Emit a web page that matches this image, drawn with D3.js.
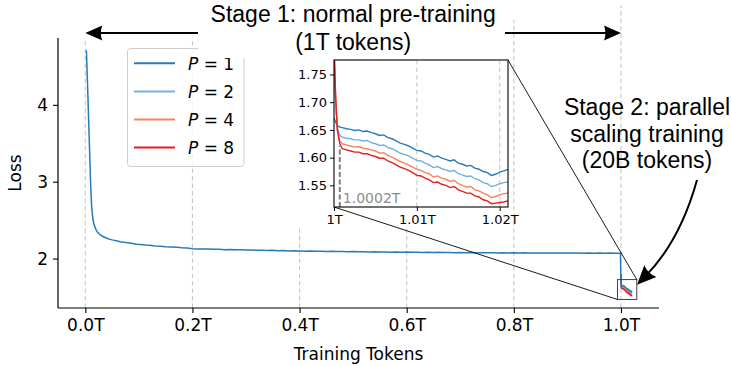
<!DOCTYPE html>
<html><head><meta charset="utf-8">
<script src="https://cdn.jsdelivr.net/npm/d3@7"></script>
<style>body{margin:0;background:#fff}</style>
</head><body>
<svg id="c" width="732" height="366" xmlns="http://www.w3.org/2000/svg"></svg>
<script>
// ---------------- data ----------------
const seriesNames = ["1", "2", "4", "8"];
const seriesColors = ["#2a7ab8", "#72b1da", "#f7845f", "#e2201f"];

const mainXTicks = [0, 0.2, 0.4, 0.6, 0.8, 1.0];
const mainXTickLabels = ["0.0T", "0.2T", "0.4T", "0.6T", "0.8T", "1.0T"];
const mainYTicks = [2, 3, 4];
const insetXTicks = [1.0, 1.01, 1.02];
const insetXTickLabels = ["1T", "1.01T", "1.02T"];
const insetYTicks = [1.55, 1.60, 1.65, 1.70, 1.75];

// Stage 1 (P = 1 only), x in trillions of tokens
const stage1X = [0.002,0.004,0.006,0.008,0.010,0.012,0.014,0.016,0.019,0.022,0.026,0.030,0.035,0.040,0.046,0.052,0.058,0.065,0.072,0.080,0.088,0.096,0.104,0.112,0.120,
  0.13,0.14,0.15,0.16,0.17,0.18,0.19,0.20,0.21,0.22,0.23,0.24,0.25,0.26,0.27,0.28,0.29,0.30,0.31,0.32,0.33,0.34,0.35,0.36,0.37,0.38,0.39,0.40,
  0.41,0.42,0.43,0.44,0.45,0.46,0.47,0.48,0.49,0.50,0.51,0.52,0.53,0.54,0.55,0.56,0.57,0.58,0.59,0.60,0.61,0.62,0.63,0.64,0.65,0.66,0.67,0.68,0.69,0.70,
  0.71,0.72,0.73,0.74,0.75,0.76,0.77,0.78,0.79,0.80,0.81,0.82,0.83,0.84,0.85,0.86,0.87,0.88,0.89,0.90,0.91,0.92,0.93,0.94,0.95,0.96,0.97,0.98,0.99,0.999];
const stage1P1 = [4.71,4.30,3.85,3.40,2.95,2.66,2.52,2.45,2.39,2.35,2.32,2.30,2.28,2.265,2.25,2.24,2.232,2.22,2.212,2.205,2.195,2.186,2.182,2.176,2.172,
  2.164,2.162,2.155,2.152,2.149,2.141,2.138,2.128,2.126,2.124,2.125,2.120,2.121,2.116,2.119,2.114,2.115,2.111,2.113,2.108,2.110,2.104,2.107,2.102,2.104,2.100,2.101,2.099,
  2.097,2.099,2.095,2.096,2.093,2.095,2.091,2.093,2.090,2.091,2.088,2.090,2.087,2.088,2.085,2.087,2.084,2.086,2.083,2.084,2.082,2.083,2.080,2.082,2.079,2.081,2.078,2.080,2.077,2.079,
  2.076,2.078,2.076,2.077,2.075,2.077,2.074,2.076,2.074,2.075,2.073,2.075,2.073,2.074,2.072,2.074,2.072,2.073,2.071,2.073,2.071,2.072,2.070,2.072,2.070,2.071,2.069,2.071,2.069,2.070];

// Stage 2 (parallel scaling), x in trillions of tokens
const stage2X = [1.0000,1.0002,1.0004,1.0007,1.0010,1.0015,1.0020,1.0025,1.0030,1.0035,1.0040,1.0045,1.0050,1.0055,1.0060,1.0065,1.0070,1.0075,1.0080,1.0085,
  1.0090,1.0095,1.0100,1.0105,1.0110,1.0115,1.0120,1.0125,1.0130,1.0135,1.0140,1.0145,1.0150,1.0155,1.0160,1.0165,1.0170,1.0175,1.0180,1.0185,1.0190,1.0195,1.0200,1.0205,1.0210];
const stage2P1 = [1.672,1.664,1.658,1.655,1.654,1.652,1.651,1.649,1.650,1.647,1.648,1.645,1.643,1.640,1.641,1.636,1.634,1.630,1.626,1.624,
  1.621,1.617,1.613,1.612,1.608,1.606,1.601,1.603,1.599,1.597,1.594,1.596,1.590,1.588,1.585,1.586,1.581,1.579,1.575,1.573,1.568,1.570,1.574,1.576,1.579];
const stage2P2 = [1.800,1.700,1.655,1.640,1.637,1.635,1.634,1.632,1.632,1.630,1.631,1.627,1.625,1.622,1.623,1.618,1.616,1.612,1.608,1.606,
  1.603,1.599,1.595,1.594,1.590,1.587,1.582,1.584,1.580,1.578,1.575,1.577,1.571,1.569,1.566,1.567,1.562,1.560,1.555,1.553,1.548,1.550,1.553,1.555,1.556];
const stage2P4 = [1.800,1.705,1.650,1.630,1.625,1.623,1.621,1.619,1.620,1.617,1.616,1.614,1.612,1.608,1.609,1.604,1.601,1.597,1.593,1.590,
  1.587,1.583,1.579,1.577,1.573,1.571,1.565,1.567,1.563,1.561,1.557,1.559,1.553,1.550,1.547,1.548,1.542,1.540,1.536,1.533,1.528,1.530,1.533,1.535,1.536];
const stage2P8 = [1.800,1.710,1.650,1.625,1.616,1.614,1.612,1.610,1.610,1.607,1.607,1.604,1.602,1.599,1.599,1.594,1.591,1.587,1.583,1.580,
  1.577,1.573,1.568,1.567,1.563,1.560,1.555,1.556,1.552,1.550,1.546,1.548,1.542,1.539,1.536,1.536,1.531,1.529,1.524,1.522,1.517,1.518,1.519,1.520,1.522];

const markerT = 1.0007;          // dashed marker in inset
const markerTop = 1.621;
const markerLabel = "1.0002T";
const zoomBoxX = [0.9935, 1.0295];
const zoomBoxY = [1.468, 1.727];

// ---------------- drawing ----------------
const svg = d3.select("#c");
const AX = "DejaVu Sans, sans-serif";
const AN = "Liberation Sans, Arial, sans-serif";
const M = {l: 58, r: 659, t: 38, b: 308};
const x = d3.scaleLinear().domain([-0.051, 1.071]).range([M.l, M.r]);
const y = d3.scaleLinear().domain([1.357, 4.87]).range([M.b, M.t]);

const I = {l: 334, r: 508, t: 60, b: 207};
const ix = d3.scaleLinear().domain([1.0, 1.021]).range([I.l, I.r]);
const iy = d3.scaleLinear().domain([1.511, 1.776]).range([I.b, I.t]);

svg.append("rect").attr("width", 732).attr("height", 366).attr("fill", "#fff");

// grid (vertical)
const gridTop = {"0.8": 20, "1": 5};
svg.append("g").selectAll("line").data(mainXTicks).join("line")
  .attr("x1", d => x(d)).attr("x2", d => x(d))
  .attr("y1", M.b).attr("y2", d => gridTop[String(d)] ?? M.t)
  .attr("stroke", "#c8c8c8").attr("stroke-width", 1.1).attr("stroke-dasharray", "4.5,3");

// white area behind inset and its labels
svg.append("rect").attr("x", 280).attr("y", 0).attr("width", I.r + 1 - 280).attr("height", 228).attr("fill", "#fff");

// main lines
const line = (sx, sy) => d3.line().x(d => sx(d[0])).y(d => sy(d[1]));
const stage2 = [stage2P1, stage2P2, stage2P4, stage2P8];
const p1Full = stage1X.map((v, i) => [v, stage1P1[i]]).concat(stage2X.map((v, i) => [v, stage2P1[i]]));
const gMain = svg.append("g");
[1, 2, 3].forEach(k => {
  gMain.append("path").attr("d", line(x, y)(stage2X.map((v, i) => [v, stage2[k][i]])))
    .attr("fill", "none").attr("stroke", seriesColors[k]).attr("stroke-width", 1.5);
});
gMain.append("path").attr("d", line(x, y)(p1Full)).attr("fill", "none")
  .attr("stroke", seriesColors[0]).attr("stroke-width", 1.5);

// axes
const xAxis = d3.axisBottom(x).tickValues(mainXTicks).tickFormat((d, i) => mainXTickLabels[i]).tickSize(5).tickPadding(6);
const gx = svg.append("g").attr("transform", `translate(0,${M.b})`).call(xAxis);
const yAxis = d3.axisLeft(y).tickValues(mainYTicks).tickFormat(d3.format("d")).tickSize(5).tickPadding(5);
const gy = svg.append("g").attr("transform", `translate(${M.l},0)`).call(yAxis);
[gx, gy].forEach(g => {
  g.select(".domain").attr("stroke", "#000").attr("stroke-width", 1.2);
  g.selectAll(".tick line").attr("stroke", "#000").attr("stroke-width", 1.1);
  g.selectAll(".tick text").attr("font-family", AX).attr("font-size", 17).attr("fill", "#000");
});
gx.select(".domain").attr("d", `M${M.l},0H${M.r}`);
gy.select(".domain").attr("d", `M0,${M.b}V${M.t}`);

svg.append("text").attr("x", (M.l + M.r) / 2).attr("y", 360).attr("text-anchor", "middle")
  .attr("font-family", AX).attr("font-size", 17).text("Training Tokens");
svg.append("text").attr("transform", `translate(21,${(M.t + M.b) / 2}) rotate(-90)`).attr("text-anchor", "middle")
  .attr("font-family", AX).attr("font-size", 17).text("Loss");

// zoom box + connectors
svg.append("rect").attr("x", x(zoomBoxX[0])).attr("y", y(zoomBoxY[1]))
  .attr("width", x(zoomBoxX[1]) - x(zoomBoxX[0])).attr("height", y(zoomBoxY[0]) - y(zoomBoxY[1]))
  .attr("fill", "none").attr("stroke", "#444").attr("stroke-width", 1);
svg.append("line").attr("x1", I.r).attr("y1", I.t).attr("x2", x(zoomBoxX[1])).attr("y2", y(zoomBoxY[1]))
  .attr("stroke", "#000").attr("stroke-width", 0.9);
svg.append("line").attr("x1", I.l).attr("y1", I.b).attr("x2", x(zoomBoxX[0])).attr("y2", y(zoomBoxY[0]))
  .attr("stroke", "#000").attr("stroke-width", 0.9);

// legend
const lg = svg.append("g");
lg.append("rect").attr("x", 127.5).attr("y", 48.5).attr("width", 116.5).attr("height", 118).attr("rx", 3)
  .attr("fill", "#fff").attr("fill-opacity", 0.8).attr("stroke", "#cccccc").attr("stroke-width", 1);
seriesNames.forEach((n, i) => {
  const yy = 63.3 + i * 28.1;
  lg.append("line").attr("x1", 134).attr("x2", 175).attr("y1", yy).attr("y2", yy)
    .attr("stroke", seriesColors[i]).attr("stroke-width", 2);
  const t = lg.append("text").attr("x", 188).attr("y", yy + 6.5).attr("font-family", AX).attr("font-size", 17);
  t.append("tspan").attr("font-style", "italic").text("P");
  t.append("tspan").text(" = " + n);
});

// inset
const gi = svg.append("g");
gi.append("rect").attr("x", I.l).attr("y", I.t).attr("width", I.r - I.l).attr("height", I.b - I.t).attr("fill", "#fff");
gi.append("clipPath").attr("id", "iclip").append("rect").attr("x", I.l).attr("y", I.t).attr("width", I.r - I.l).attr("height", I.b - I.t);
gi.append("g").selectAll("line").data(insetXTicks.slice(1)).join("line")
  .attr("x1", d => ix(d)).attr("x2", d => ix(d)).attr("y1", I.t).attr("y2", I.b)
  .attr("stroke", "#c8c8c8").attr("stroke-width", 1.1).attr("stroke-dasharray", "4.5,3");
const gil = gi.append("g").attr("clip-path", "url(#iclip)");
stage2.forEach((s, k) => {
  gil.append("path").attr("d", line(ix, iy)(stage2X.map((v, i) => [v, s[i]])))
    .attr("fill", "none").attr("stroke", seriesColors[k]).attr("stroke-width", 1.4);
});
gil.append("line").attr("x1", ix(markerT)).attr("x2", ix(markerT)).attr("y1", I.b).attr("y2", iy(markerTop))
  .attr("stroke", "#808080").attr("stroke-width", 2).attr("stroke-dasharray", "5,2.5");
gi.append("text").attr("x", ix(markerT) + 3).attr("y", 203).attr("font-family", AX).attr("font-size", 14)
  .attr("fill", "#8c8c8c").text(markerLabel);
const ixAxis = d3.axisBottom(ix).tickValues(insetXTicks).tickFormat((d, i) => insetXTickLabels[i]).tickSize(4).tickPadding(4);
const gix = gi.append("g").attr("transform", `translate(0,${I.b})`).call(ixAxis);
const iyAxis = d3.axisLeft(iy).tickValues(insetYTicks).tickFormat(d3.format(".2f")).tickSize(4).tickPadding(3);
const giy = gi.append("g").attr("transform", `translate(${I.l},0)`).call(iyAxis);
[gix, giy].forEach(g => {
  g.select(".domain").remove();
  g.selectAll(".tick line").attr("stroke", "#000").attr("stroke-width", 1);
  g.selectAll(".tick text").attr("font-family", AX).attr("font-size", 13).attr("fill", "#000");
});
gi.append("rect").attr("x", I.l).attr("y", I.t).attr("width", I.r - I.l).attr("height", I.b - I.t)
  .attr("fill", "none").attr("stroke", "#000").attr("stroke-width", 1.1);

// annotations
function head(g, tx, ty, angDeg, L = 17, W = 7.5, N = 5) {
  g.append("path").attr("d", `M0,0 L${-L},${-W} Q${-L + N * 0.6},0 ${-L},${W} Z`)
    .attr("transform", `translate(${tx},${ty}) rotate(${angDeg})`).attr("fill", "#000");
}
const ga = svg.append("g");
const arrowY = 33;
ga.append("line").attr("x1", x(0) + 10).attr("x2", x(1.0) - 10).attr("y1", arrowY).attr("y2", arrowY)
  .attr("stroke", "#000").attr("stroke-width", 1.8);
head(ga, x(0), arrowY, 180);
head(ga, x(1.0), arrowY, 0);
ga.append("rect").attr("x", 198).attr("y", 2).attr("width", 307).attr("height", 56).attr("fill", "#fff");
const s1 = ga.append("text").attr("text-anchor", "middle").attr("font-family", AN).attr("font-size", 23);
s1.append("tspan").attr("x", x(0.5)).attr("y", 22).text("Stage 1: normal pre-training");
s1.append("tspan").attr("x", x(0.5)).attr("y", 50).text("(1T tokens)");

const s2 = ga.append("text").attr("text-anchor", "middle").attr("font-family", AN).attr("font-size", 23);
s2.append("tspan").attr("x", 647).attr("y", 115).text("Stage 2: parallel");
s2.append("tspan").attr("x", 647).attr("y", 141.5).text("scaling training");
s2.append("tspan").attr("x", 647).attr("y", 168).text("(20B tokens)");

const tipX = x(1.03), tipY = y(1.66);
const c0 = [697, 180], c1 = [680, 241];
const ang = Math.atan2(tipY - c1[1], tipX - c1[0]);
const endX = tipX - 12 * Math.cos(ang), endY = tipY - 12 * Math.sin(ang);
ga.append("path").attr("d", `M${c0[0]},${c0[1]} Q${c1[0]},${c1[1]} ${endX},${endY}`)
  .attr("fill", "none").attr("stroke", "#000").attr("stroke-width", 2);
head(ga, tipX, tipY, ang * 180 / Math.PI, 19, 8.5, 6);
</script>
</body></html>
